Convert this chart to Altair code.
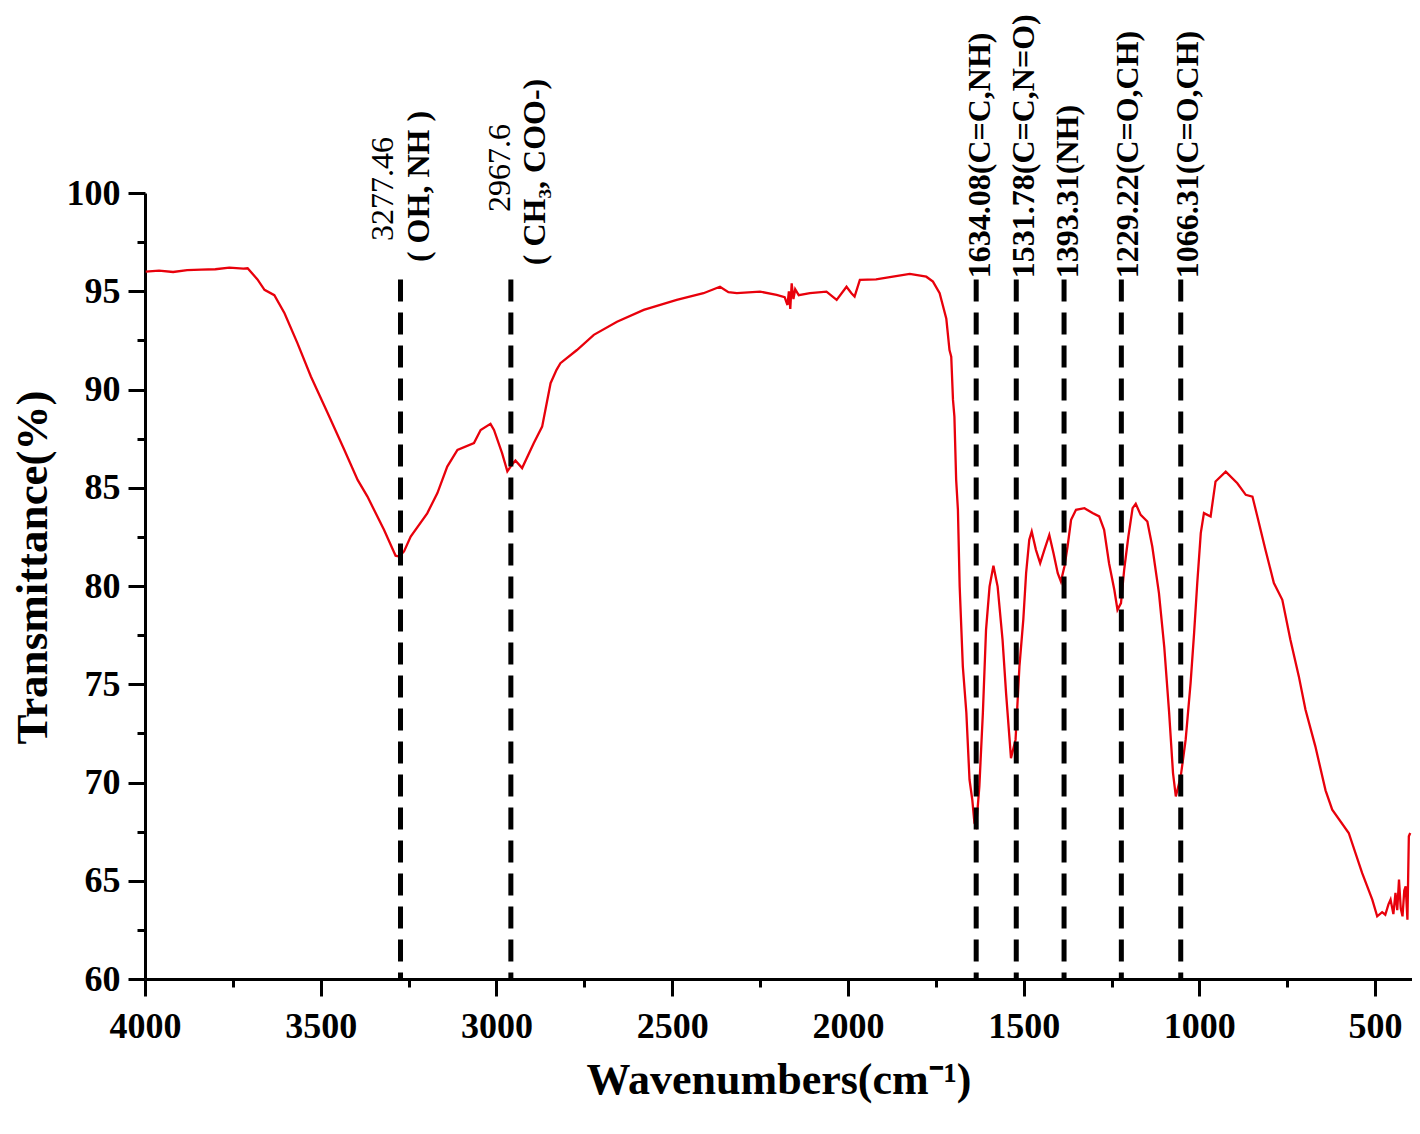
import altair as alt
import pandas as pd

# ---- spectrum ----
wavenumber = [
    3998, 3960, 3920, 3880, 3840, 3800, 3760, 3720, 3708, 3680, 3660, 3632, 3603, 3566,
    3528, 3480, 3433, 3395, 3367, 3320, 3287, 3277, 3263, 3244, 3197, 3168, 3140, 3111,
    3064, 3045, 3017, 3007, 2984, 2969, 2955, 2946, 2927, 2894, 2870, 2846, 2829, 2818,
    2771, 2723, 2657, 2581, 2487, 2411, 2364, 2340, 2316, 2250, 2203, 2180, 2172, 2168,
    2164, 2160, 2155, 2150, 2140, 2108, 2061, 2032, 2004, 1990, 1981, 1966, 1920, 1872,
    1824, 1777, 1758, 1739, 1720, 1711, 1706, 1701, 1697, 1692, 1687, 1682, 1673, 1663,
    1654, 1646, 1640, 1635, 1626, 1616, 1607, 1597, 1586, 1574, 1560, 1550, 1536, 1523,
    1512, 1501, 1493, 1484, 1477, 1465, 1453, 1441, 1427, 1415, 1403, 1394, 1384, 1375,
    1365, 1351, 1327, 1304, 1285, 1271, 1257, 1242, 1233, 1223, 1214, 1202, 1190, 1181,
    1167, 1148, 1134, 1115, 1100, 1086, 1075, 1067, 1053, 1039, 1025, 1015, 1006, 996,
    987, 968, 954, 925, 892, 868, 849, 835, 812, 788, 764, 741, 717, 698, 670, 641, 622,
    575, 537, 508, 494, 480, 471, 462, 456, 448, 442, 437, 432, 427, 422, 417, 413, 408,
    404, 400,
]
transmittance = [
    96.0, 96.05, 95.98, 96.08, 96.1, 96.12, 96.2, 96.15, 96.17, 95.6, 95.07, 94.8, 93.88, 92.35,
    90.66, 88.79, 86.93, 85.4, 84.55, 82.86, 81.54, 81.5, 81.76, 82.52, 83.7, 84.73, 86.08, 86.93,
    87.27, 87.94, 88.25, 87.94, 86.76, 85.83, 86.2, 86.39, 86.0, 87.27, 88.11, 90.32, 91.0, 91.34,
    92.01, 92.78, 93.45, 94.05, 94.56, 94.9, 95.23, 94.95, 94.9, 94.98, 94.81, 94.7, 94.3, 95.0,
    94.1, 95.4, 94.6, 95.1, 94.8, 94.9, 94.98, 94.56, 95.23, 94.9, 94.73, 95.58, 95.6, 95.74,
    95.88, 95.74, 95.49, 94.9, 93.6, 92.01, 91.67, 89.47, 88.62, 85.4, 83.88, 79.97, 75.9, 73.55,
    70.14, 69.1, 67.94, 67.77, 69.8, 73.54, 77.77, 79.97, 81.03, 79.97, 77.26, 74.55, 71.24, 72.18,
    75.9, 78.28, 80.65, 82.35, 82.77, 81.84, 81.16, 81.84, 82.6, 81.67, 80.65, 80.23, 80.99, 82.01,
    83.37, 83.88, 83.96, 83.71, 83.54, 82.86, 81.16, 79.81, 78.79, 79.13, 80.82, 82.52, 83.96, 84.18,
    83.62, 83.28, 82.01, 79.64, 76.92, 73.54, 70.48, 69.29, 70.31, 72.18, 75.06, 77.6, 80.15, 82.69,
    83.71, 83.54, 85.32, 85.82, 85.23, 84.64, 84.55, 83.54, 81.84, 80.15, 79.3, 77.26, 75.4, 73.7,
    71.84, 69.6, 68.62,
    67.43, 65.4, 64.04, 63.19, 63.4, 63.27, 63.8, 64.04, 63.3, 64.38, 63.5, 65.06, 63.6, 63.19,
    64.5, 64.72, 63.02, 67.26, 67.43,
]

# ---- marker lines (positions) ----
line_wn = [3273, 2959, 1635, 1521, 1385, 1222, 1053]
line_top = [95.6] * 7
line_bottom = [60] * 7

# ---- two-line labels for the first two bands ----
left_num_text = ["3277.46", "2967.6"]
left_num_wn = [3323, 2991]
left_num_t = [100.2, 101.27]
left_grp_text = ["( OH, NH )", "( CH\u2083, COO-)"]
left_grp_wn = [3221, 2891]
left_grp_t = [100.33, 101.07]

# ---- one-line labels for the other bands ----
right_text = ["1634.08(C=C,NH)", "1531.78(C=C,N=O)", "1393.31(NH)",
              "1229.22(C=O,CH)", "1066.31(C=O,CH)"]
right_wn = [1624, 1499, 1374, 1203, 1032]
right_t = [95.66] * 5

x_ticks = list(range(500, 4001, 250))
y_ticks = [60 + 2.5 * i for i in range(17)]

FONT = "Liberation Serif"
RED = "#e8000b"

spec_df = pd.DataFrame({"wn": wavenumber, "T": transmittance})
line_df = pd.DataFrame({"wn": line_wn, "T": line_top, "T2": line_bottom})
lnum_df = pd.DataFrame({"wn": left_num_wn, "T": left_num_t, "label": left_num_text})
lgrp_df = pd.DataFrame({"wn": left_grp_wn, "T": left_grp_t, "label": left_grp_text})
right_df = pd.DataFrame({"wn": right_wn, "T": right_t, "label": right_text})

x_axis = alt.Axis(
    values=x_ticks,
    labelExpr="datum.value % 500 === 0 ? '' + datum.value : ''",
    tickSize={"condition": {"test": "datum.value % 500 === 0", "value": 17}, "value": 8},
    labelPadding=13,
    labelFlush=False,
    labelOverlap=False,
    grid=False,
    titleY=114,
    titleBaseline="alphabetic",
    titleFontSize=44,
)
y_axis = alt.Axis(
    values=y_ticks,
    labelExpr="datum.value % 5 === 0 ? '' + datum.value : ''",
    tickSize={"condition": {"test": "datum.value % 5 === 0", "value": 17}, "value": 8},
    labelPadding=8,
    labelFlush=False,
    labelOverlap=False,
    grid=False,
    titleX=-99,
    titleY=374,
    titleBaseline="alphabetic",
    titleAngle=270,
    titleFontSize=45,
)

X_TITLE = "Wavenumbers(cm\u207b\u00b9)"
Y_TITLE = "Transmittance(%)"


def xenc():
    return alt.X("wn:Q", title=X_TITLE, axis=x_axis,
                 scale=alt.Scale(domain=[4000, 395], nice=False, zero=False))


def yenc(field="T"):
    return alt.Y(f"{field}:Q", title=Y_TITLE, axis=y_axis,
                 scale=alt.Scale(domain=[60, 100], nice=False, zero=False))


spectrum = alt.Chart(spec_df).mark_line(color=RED, strokeWidth=2.3).encode(
    x=xenc(), y=yenc()
)

rules = alt.Chart(line_df).mark_rule(
    color="black", strokeWidth=5, strokeDash=[22, 11]
).encode(x=xenc(), y=yenc(), y2="T2:Q")

lnum = alt.Chart(lnum_df).mark_text(
    angle=270, align="center", baseline="middle", font=FONT, fontSize=32,
    fontWeight="normal", color="black"
).encode(x=xenc(), y=yenc(), text="label:N")

lgrp = alt.Chart(lgrp_df).mark_text(
    angle=270, align="center", baseline="middle", font=FONT, fontSize=32,
    fontWeight="bold", color="black"
).encode(x=xenc(), y=yenc(), text="label:N")

rtext = alt.Chart(right_df).mark_text(
    angle=270, align="left", baseline="middle", font=FONT, fontSize=32,
    fontWeight="bold", color="black"
).encode(x=xenc(), y=yenc(), text="label:N")

chart = alt.layer(spectrum, rules, lnum, lgrp, rtext).properties(
    width=1267,
    height=786,
    autosize=alt.AutoSizeParams(type="none"),
    padding={"left": 137, "top": 185, "right": 0, "bottom": 140},
).configure_view(
    stroke=None
).configure_axis(
    domainColor="black",
    domainWidth=3,
    tickColor="black",
    tickWidth=3,
    labelFont=FONT,
    labelFontSize=36,
    labelFontWeight="bold",
    labelColor="black",
    titleFont=FONT,
    titleFontWeight="bold",
    titleColor="black",
)

chart.save("out.html", embed_options={"renderer": "svg", "actions": False})
